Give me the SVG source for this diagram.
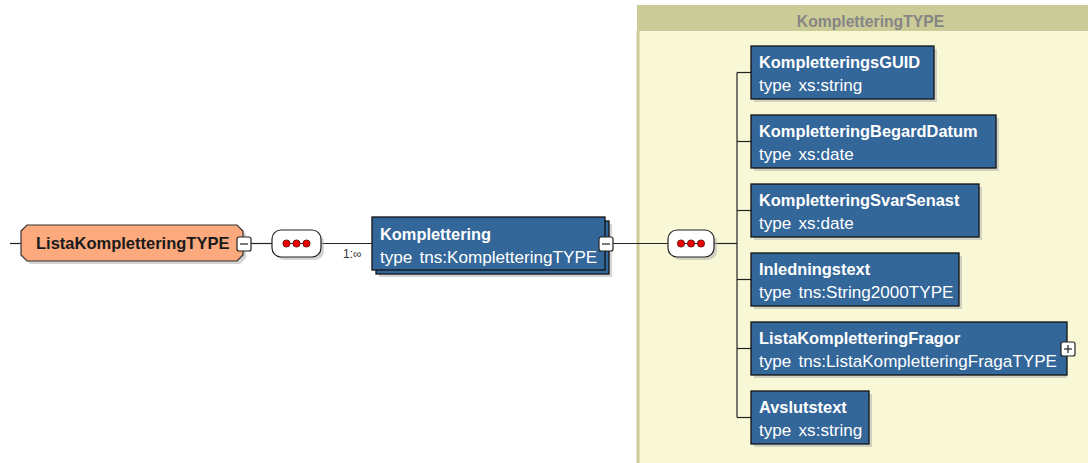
<svg xmlns="http://www.w3.org/2000/svg" width="1088" height="463" viewBox="0 0 1088 463">
<defs>
<style>
.box{fill:#336699;stroke:#111;stroke-width:1.3}
.shd{fill:#b0b0b0;opacity:0.55}
.t1{font-family:"Liberation Sans",Arial,sans-serif;font-weight:bold;font-size:16.4px;fill:#ffffff}
.t2{font-family:"Liberation Sans",Arial,sans-serif;font-size:17.1px;word-spacing:2.5px;fill:#ffffff}
.ln{stroke:#222;stroke-width:1.2;fill:none}
.btn{fill:#ffffff;stroke:#222;stroke-width:1.2}
.seq{fill:#ffffff;stroke:#222;stroke-width:1.2}
.dot{fill:#ee0000;stroke:#550000;stroke-width:0.8}
</style>
</defs>
<rect x="0" y="0" width="1088" height="463" fill="#ffffff"/>

<g id="KompletteringTYPE-container">
<rect x="637" y="5" width="470" height="470" fill="#f8f8d6"/>
<rect x="637" y="5" width="470" height="26" fill="#cbcb98"/>
<line x1="638" y1="31" x2="638" y2="463" stroke="#cbcb98" stroke-width="3"/>
<text x="870.5" y="26.5" text-anchor="middle" font-family="'Liberation Sans',Arial,sans-serif" font-weight="bold" font-size="15.7" fill="#858585">KompletteringTYPE</text>
</g>

<g id="connectors">
<line class="ln" x1="10" y1="243.5" x2="21" y2="243.5"/>
<line class="ln" x1="251" y1="243.5" x2="272" y2="243.5"/>
<line class="ln" x1="321" y1="243.5" x2="372" y2="243.5"/>
<line class="ln" x1="613" y1="243.5" x2="668" y2="243.5"/>
<line class="ln" x1="714" y1="243.5" x2="737" y2="243.5"/>
<line class="ln" x1="737" y1="72.5" x2="737" y2="417.5"/>
<line class="ln" x1="737" y1="72.5" x2="751" y2="72.5"/>
<line class="ln" x1="737" y1="141.5" x2="751" y2="141.5"/>
<line class="ln" x1="737" y1="210.5" x2="751" y2="210.5"/>
<line class="ln" x1="737" y1="279.5" x2="751" y2="279.5"/>
<line class="ln" x1="737" y1="348.5" x2="751" y2="348.5"/>
<line class="ln" x1="737" y1="417.5" x2="751" y2="417.5"/>
<text x="343" y="257.5" font-family="'Liberation Sans',Arial,sans-serif" font-size="12" fill="#333">1:∞</text>
</g>

<g id="ListaKompletteringTYPE">
<polygon points="27,225 237,225 243,231 243,255 237,261 27,261 21,255 21,231" fill="#b0b0b0" opacity="0.55" transform="translate(3,3)"/>
<polygon points="27,225 237,225 243,231 243,255 237,261 27,261 21,255 21,231" fill="#fba97d" stroke="#333" stroke-width="1.2"/>
<text x="36" y="249" font-family="'Liberation Sans',Arial,sans-serif" font-weight="bold" font-size="16.5" fill="#1a1a1a">ListaKompletteringTYPE</text>
<rect class="btn" x="237" y="237" width="14" height="14" rx="2"/>
<line class="ln" x1="240" y1="244" x2="248" y2="244"/>
</g>

<g id="seq1">
<rect class="shd" x="275" y="233" width="49" height="27" rx="9"/>
<rect class="seq" x="272" y="230" width="49" height="27" rx="9"/>
<line x1="286.5" y1="243.5" x2="306.5" y2="243.5" stroke="#333" stroke-width="1"/>
<circle class="dot" cx="286.5" cy="243.5" r="3.6"/>
<circle class="dot" cx="296.5" cy="243.5" r="3.6"/>
<circle class="dot" cx="306.5" cy="243.5" r="3.6"/>
</g>

<g id="Komplettering">
<rect class="shd" x="379" y="224" width="233" height="53"/>
<rect class="box" x="376" y="221" width="233" height="53"/>
<rect class="box" x="372" y="217" width="233" height="53"/>
<text class="t1" x="380" y="240">Komplettering</text>
<text class="t2" x="380" y="263">type tns:KompletteringTYPE</text>
<rect class="btn" x="599" y="237" width="14" height="14" rx="2"/>
<line class="ln" x1="602" y1="244" x2="610" y2="244"/>
</g>

<g id="seq2">
<rect class="shd" x="671" y="233" width="46" height="27" rx="9"/>
<rect class="seq" x="668" y="230" width="46" height="27" rx="9"/>
<line x1="681" y1="243.5" x2="701" y2="243.5" stroke="#333" stroke-width="1"/>
<circle class="dot" cx="681" cy="243.5" r="3.6"/>
<circle class="dot" cx="691" cy="243.5" r="3.6"/>
<circle class="dot" cx="701" cy="243.5" r="3.6"/>
</g>

<g id="KompletteringsGUID">
<rect class="shd" x="754" y="49" width="183" height="53"/>
<rect class="box" x="751" y="46" width="183" height="53"/>
<text class="t1" x="759" y="68">KompletteringsGUID</text>
<text class="t2" x="759" y="91">type xs:string</text>
</g>

<g id="KompletteringBegardDatum">
<rect class="shd" x="754" y="118" width="245" height="53"/>
<rect class="box" x="751" y="115" width="245" height="53"/>
<text class="t1" x="759" y="137">KompletteringBegardDatum</text>
<text class="t2" x="759" y="160">type xs:date</text>
</g>

<g id="KompletteringSvarSenast">
<rect class="shd" x="754" y="187" width="228" height="53"/>
<rect class="box" x="751" y="184" width="228" height="53"/>
<text class="t1" x="759" y="206">KompletteringSvarSenast</text>
<text class="t2" x="759" y="229">type xs:date</text>
</g>

<g id="Inledningstext">
<rect class="shd" x="754" y="256" width="208" height="53"/>
<rect class="box" x="751" y="253" width="208" height="53"/>
<text class="t1" x="759" y="275">Inledningstext</text>
<text class="t2" x="759" y="298">type tns:String2000TYPE</text>
</g>

<g id="ListaKompletteringFragor">
<rect class="shd" x="754" y="325" width="313" height="53"/>
<rect class="box" x="751" y="322" width="316" height="53"/>
<text class="t1" x="759" y="344">ListaKompletteringFragor</text>
<text class="t2" x="759" y="367">type tns:ListaKompletteringFragaTYPE</text>
<rect class="btn" x="1061" y="342" width="14" height="14" rx="2"/>
<line class="ln" x1="1064" y1="349" x2="1072" y2="349"/>
<line class="ln" x1="1068" y1="345" x2="1068" y2="353"/>
</g>

<g id="Avslutstext">
<rect class="shd" x="754" y="394" width="118" height="53"/>
<rect class="box" x="751" y="391" width="118" height="53"/>
<text class="t1" x="759" y="413">Avslutstext</text>
<text class="t2" x="759" y="436">type xs:string</text>
</g>
</svg>
